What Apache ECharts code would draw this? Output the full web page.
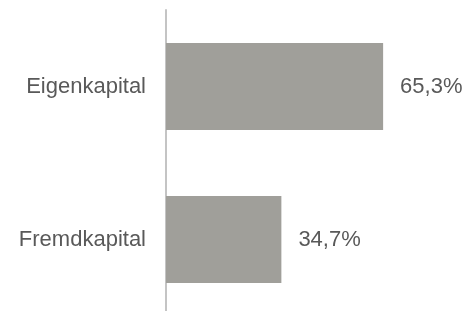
<!DOCTYPE html>
<html>
<head>
<meta charset="utf-8">
<script src="https://cdn.jsdelivr.net/npm/echarts@6/dist/echarts.min.js"></script>
<style>
  html, body { margin: 0; padding: 0; background: #fff; }
  #chart { width: 469px; height: 311px; }
</style>
</head>
<body>
<div id="chart"></div>
<script>
// Kapitalstruktur
var categories = ['Fremdkapital', 'Eigenkapital'];
var values = [34.7, 65.3];

var myChart = echarts.init(document.getElementById('chart'));

var option = {
    animation: false,
    grid: {
        left: 166,
        right: 37,
        top: 10,
        height: 306,
        outerBoundsMode: 'none'
    },
    xAxis: {
        type: 'value',
        min: 0,
        max: 80,
        show: false
    },
    yAxis: {
        type: 'category',
        data: categories,
        axisLine: { show: true, lineStyle: { color: '#c4c4c4', width: 2 } },
        axisTick: { show: false },
        axisLabel: {
            margin: 20,
            fontFamily: 'Liberation Sans, Arial, sans-serif',
            fontSize: 22,
            color: '#595959'
        }
    },
    series: [
        {
            type: 'bar',
            data: values,
            barCategoryGap: '43%',
            itemStyle: { color: '#a09f9a' },
            label: {
                show: true,
                position: 'right',
                distance: 17,
                fontFamily: 'Liberation Sans, Arial, sans-serif',
                fontSize: 22,
                color: '#595959',
                formatter: function (p) {
                    return p.value.toFixed(1).replace('.', ',') + '%';
                }
            }
        }
    ]
};
myChart.setOption(option);
</script>
</body>
</html>
